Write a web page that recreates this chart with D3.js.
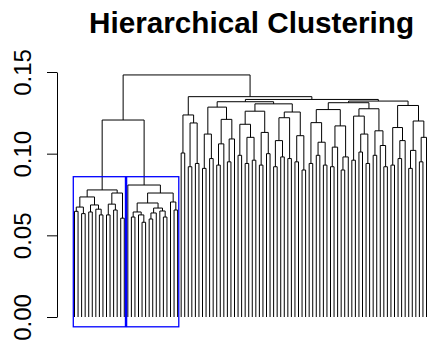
<!DOCTYPE html>
<html>
<head>
<meta charset="utf-8">
<script src="https://cdn.jsdelivr.net/npm/d3@7"></script>
<style>
  body { margin: 0; background: #fff; }
  text { font-family: "Liberation Sans", Arial, Helvetica, sans-serif; fill: #000; }
</style>
</head>
<body>
<svg width="428" height="344"></svg>
<script>
// tree nodes are [height, left, right], leaves are sample ids
var box1 = [0.0778,
    [0.0735, [0.0673, [0.0647, 1, 2], [0.0633, 3, 4]], [0.0686, [0.0643, 5, 6], [0.066, 7, [0.0625, 8, 9]]]],
    [0.0759, [0.0691, [0.0625, 10, 11], [0.0655, 12, 13]], [0.0605, 14, 15]]];
var box2 = [0.0808, 16,
    [0.0759,
        [0.0698, [0.0643, [0.0612, 17, 18], [0.0625, 19, [0.058, 20, 21]]],
                 [0.0667, [0.0637, [0.06, 22, 23], 24], [0.0649, 25, [0.0612, 26, 27]]]],
        [0.0704, 28, [0.0655, 29, 30]]]];

var r1 = [0.1237, [0.1004, 31, 32], [0.1188, [0.092, 33, 34], [0.094, 35, 36]]];
var s1 = [0.112, [0.091, 37, 38], [0.097, 39, 40]];
var s2 = [0.121, [0.106, [0.093, 41, 42], 43], [0.109, [0.095, 44, 45], 46]];
var s3 = [0.118, [0.099, 47, 48], [0.110, [0.094, 49, 50], [0.096, 51, 52]]];
var s4 = [0.113, [0.093, 53, 54], [0.1, 55, 56]];
var s5 = [0.122, [0.108, [0.092, 57, 58], [0.098, 59, 60]], [0.097, 61, 62]];
var s6 = [0.111, [0.095, 63, 64], [0.090, 65, 66]];
var s7 = [0.119, [0.094, 67, 68], [0.107, [0.099, 69, 70], [0.093, 71, 72]]];
var s8 = [0.117, [0.104, [0.092, 73, 74], 75], [0.098, [0.09, 76, 77], 78]];
var s9 = [0.123, [0.096, 79, 80], [0.112, [0.101, 81, 82], [0.094, 83, 84]]];
var s10 = [0.114, [0.099, 85, 86], [0.105, 87, [0.092, 88, 89]]];
var s11 = [0.116, [0.093, 90, 91], [0.108, [0.097, 92, 93], 94]];
var s12 = [0.120, [0.102, [0.091, 95, 96], 97], [0.11, [0.095, 98, 99], 100]];

var ra = [0.1318, [0.1285, s1, s2], [0.1305, [0.126, s3, s4], [0.1255, s5, s6]]];
var rb = [0.1322, [0.1312, [0.127, s7, s8], [0.1275, s9, s10]], [0.1295, s11, s12]];
var rc = [0.1349, r1, [0.1332, ra, rb]];
var tree = [0.1482, [0.1206, box1, box2], rc];

var yTicks = [0, 0.05, 0.10, 0.15];
var cutHeight = 0.0859;
var boxes = [box1, box2];

var svg = d3.select("svg");

var root = d3.hierarchy(tree, function (d) { return Array.isArray(d) ? d.slice(1) : null; });
var leaves = root.leaves();

var x = d3.scaleLinear().domain([0, leaves.length - 1]).range([74.5, 426.5]);
var y = d3.scaleLinear().domain([0, 0.15]).range([317, 72]);

leaves.forEach(function (d, i) { d.px = x(i); d.h = 0; });
root.eachAfter(function (d) {
    if (d.children) {
        d.px = (d.children[0].px + d.children[1].px) / 2;
        d.h = d.data[0];
    }
});

var links = [];
root.each(function (d) { if (d.children) links.push(d); });

svg.append("g")
    .selectAll("path")
    .data(links)
    .enter().append("path")
    .attr("fill", "none")
    .attr("stroke", "#000")
    .attr("stroke-width", 1)
    .attr("d", function (d) {
        var a = d.children[0], b = d.children[1];
        return "M" + a.px + "," + y(a.h) + "V" + y(d.h) + "H" + b.px + "V" + y(b.h);
    });

// rect.hclust style boxes
var dx = x(1) - x(0);
svg.append("g")
    .selectAll("rect")
    .data(boxes)
    .enter().append("rect")
    .attr("fill", "none")
    .attr("stroke", "#0000ff")
    .attr("stroke-width", 1.3)
    .each(function (b) {
        var node = root.descendants().filter(function (d) { return d.data === b; })[0];
        var lv = node.leaves();
        var x0 = lv[0].px - 0.34 * dx, x1 = lv[lv.length - 1].px + 0.33 * dx;
        d3.select(this)
            .attr("x", x0)
            .attr("y", y(cutHeight))
            .attr("width", x1 - x0)
            .attr("height", y(-0.006) - y(cutHeight));
    });

var axis = svg.append("g")
    .attr("transform", "translate(57,0)")
    .call(d3.axisLeft(y).tickValues(yTicks).tickSizeInner(10).tickSizeOuter(0).tickFormat(d3.format(".2f")));
axis.select(".domain").attr("stroke", "#000");
axis.selectAll(".tick line").attr("stroke", "#000");
axis.selectAll(".tick text")
    .attr("x", 0)
    .attr("dy", 0)
    .attr("text-anchor", "middle")
    .attr("transform", "translate(-26,0) rotate(-90)")
    .style("font-size", "24px")
    .style("font-family", "'Liberation Sans', Arial, Helvetica, sans-serif")
    .attr("fill", "#000");

svg.append("text")
    .attr("x", 251.5)
    .attr("y", 33)
    .attr("text-anchor", "middle")
    .style("font-size", "29.7px")
    .style("font-weight", "bold")
    .text("Hierarchical Clustering");
</script>
</body>
</html>
